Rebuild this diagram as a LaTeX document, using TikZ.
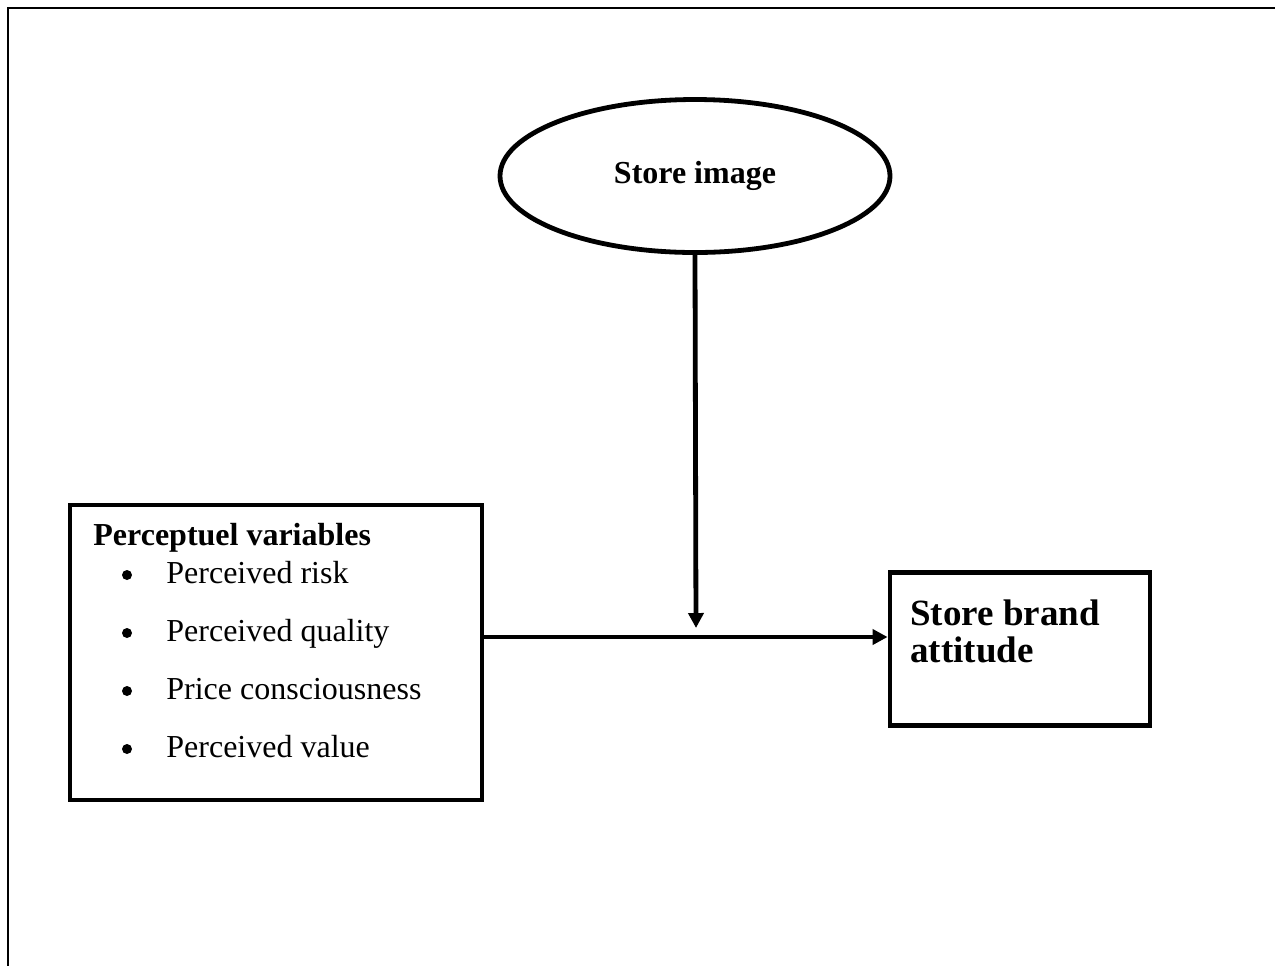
\documentclass[tikz,border=0pt]{standalone}
\usepackage{fontspec}
\setmainfont{Liberation Serif}
\usetikzlibrary{shapes.geometric,arrows.meta}
\tikzset{
  box/.style={draw,rectangle,line width=2.4pt,inner sep=0pt},
  oval/.style={draw,ellipse,line width=2.4pt,inner sep=0pt},
  dot/.style={circle,fill,inner sep=0pt,minimum size=5pt},
  link/.style={->,line width=2.4pt}
}
\begin{document}
\begin{tikzpicture}[x=0.5pt,y=-0.5pt,>={Triangle[length=7.5pt,width=7.5pt]},font=\fontsize{16}{19}\selectfont]
	\useasboundingbox (0,0) rectangle (1275,966);
	\draw[line width=1.4pt] (1275,8)--(8,8)--(8,966);
	\node[oval,minimum width=195pt,minimum height=76.5pt,font=\fontsize{16}{19}\selectfont\bfseries] (img) at (695,176) {Store image};
	\node[box,minimum width=206pt,minimum height=147.5pt] (perc) at (276,652.5) {};
	\node[box,minimum width=130pt,minimum height=76.5pt] (att) at (1020,649) {};
	% texts of the boxes
	\node[anchor=base west,inner sep=0pt,font=\fontsize{16}{19}\selectfont\bfseries] (perctitle) at (93,545) {Perceptuel variables};
	\foreach \t [count=\i] in {Perceived risk,Perceived quality,Price consciousness,Perceived value}{
		\node[dot] (bul\i) at (127,{575+58*(\i-1)}) {};
		\node[anchor=base west,inner sep=0pt] (item\i) at (166,{583+58*(\i-1)}) {\t};
	}
	\node[anchor=base west,inner sep=0pt,font=\fontsize{18.5}{22}\selectfont\bfseries] (att1) at (910,625) {Store brand};
	\node[anchor=base west,inner sep=0pt,font=\fontsize{18.5}{22}\selectfont\bfseries] (att2) at (910,662) {attitude};
	% arrows
	\coordinate (join) at (696,637);
	\draw[link] (perc.east |- join)--(att.west |- join);
	\draw[link] (img.south)--([yshift=4.5pt]join);
\end{tikzpicture}
\end{document}
